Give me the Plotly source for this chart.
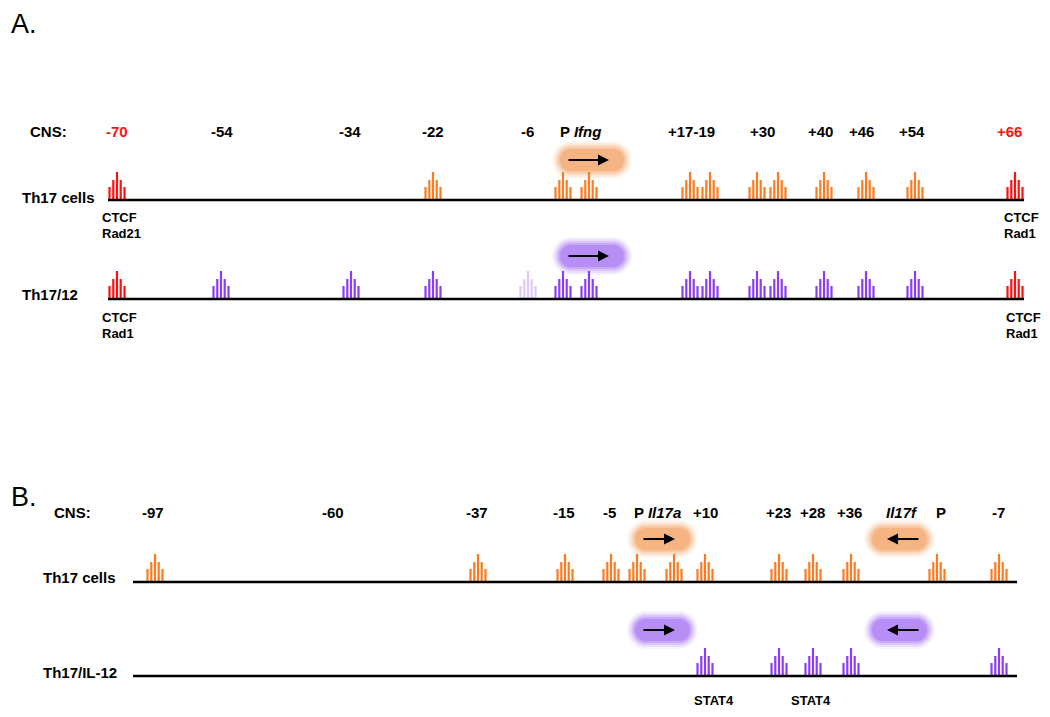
import numpy as np
import plotly.graph_objects as go

# ---------------- data ----------------
# Panel A (Ifng locus)
a_cns_labels = ["-70", "-54", "-34", "-22", "-6", "P <i>Ifng</i>", "+17-19", "+30", "+40", "+46", "+54", "+66"]
a_cns_pos = [117, 222, 350, 433, 527, 580, 691, 762, 820, 861, 912, 1009]
a_cns_kind = ["ctcf", "n", "n", "n", "n", "n", "n", "n", "n", "n", "n", "ctcf"]

a_th17_peaks = [117, 433, 563, 589, 690, 710, 757, 778, 824, 866, 915, 1015]
a_th17_kind = ["ctcf", "act", "act", "act", "act", "act", "act", "act", "act", "act", "act", "ctcf"]
a_th1712_peaks = [117, 221, 351, 433, 528, 563, 589, 690, 710, 757, 778, 824, 866, 915, 1015]
a_th1712_kind = ["ctcf", "act", "act", "act", "weak", "act", "act", "act", "act", "act", "act", "act", "act", "act", "ctcf"]

a_gene_start = [567]
a_gene_end = [609]

# Panel B (Il17a / Il17f locus)
b_cns_labels = ["-97", "-60", "-37", "-15", "-5", "P <i>Il17a</i>", "+10", "+23", "+28", "+36", "<i>Il17f</i>", "P", "-7"]
b_cns_pos = [153, 333, 477, 564, 609, 657, 705, 778, 812, 849, 902, 941, 998]

b_th17_peaks = [155, 478, 565, 611, 637, 674, 705, 779, 813, 851, 937, 999]
b_th17il12_peaks = [705, 779, 813, 851, 999]

b_gene_start = [642, 920]
b_gene_end = [675, 887]

b_stat4_pos = [714, 811]

# ---------------- styles ----------------
RED = "#FF1010"
ORANGE = "#FF7A1F"
PURPLE = "#8A3DF5"
LIGHT_PURPLE = "#DCC9F7"
GLOW_ORANGE = "#F5A061"
GLOW_PURPLE = "#A46FF4"
FONT = "Liberation Sans, Arial, sans-serif"
PAGE_OFFSET = 8  # default HTML body margin

bar_offsets = [-7.5, -3.7, 0, 3.7, 7.5]
bar_heights = [13, 20, 28, 20, 13]

fig = go.Figure()


def add_peaks(centers, kinds, base, act_color):
    groups = {}
    for c, k in zip(centers, kinds):
        col = {"ctcf": RED, "act": act_color, "weak": LIGHT_PURPLE}[k]
        xs, ys = groups.setdefault(col, ([], []))
        for o, h in zip(bar_offsets, bar_heights):
            xs += [c + o, c + o, None]
            ys += [base, base - h, None]
    for col, (xs, ys) in groups.items():
        fig.add_trace(go.Scatter(x=xs, y=ys, mode="lines", line=dict(color=col, width=2.2),
                                 hoverinfo="skip", showlegend=False))


def add_baseline(x0, x1, y):
    fig.add_trace(go.Scatter(x=[x0, x1], y=[y, y], mode="lines", line=dict(color="black", width=2.5),
                             hoverinfo="skip", showlegend=False))


def add_gene_arrow(start, end, y, glow):
    lo, hi = min(start, end), max(start, end)
    xs = np.linspace(lo + 4 - (0 if start < end else 8), hi - 4 + (8 if start < end else 0), 40)
    for size, op in [(38, 0.08), (34, 0.14), (30, 0.22), (26, 0.32), (22, 0.45)]:
        fig.add_trace(go.Scatter(x=xs, y=[y] * len(xs), mode="markers",
                                 marker=dict(size=size, color=glow, line=dict(width=0)),
                                 opacity=op, hoverinfo="skip", showlegend=False))
    fig.add_annotation(x=end, y=y, ax=start, ay=y, axref="x", ayref="y", xref="x", yref="y",
                       text="", showarrow=True, arrowhead=2, arrowsize=1.1, arrowwidth=2,
                       arrowcolor="black")


def add_text(x, y, txt, size=15, color="black", anchor="center"):
    fig.add_annotation(x=x, y=y, xref="x", yref="y", text=txt, showarrow=False,
                       xanchor=anchor, yanchor="middle",
                       font=dict(family=FONT, size=size, color=color))


# ---- Panel A ----
add_text(9, 24, "A.", size=27, anchor="left")
add_text(28, 131, "<b>CNS:</b>", anchor="left")
for lab, x, k in zip(a_cns_labels, a_cns_pos, a_cns_kind):
    add_text(x, 131, "<b>" + lab + "</b>", color=RED if k == "ctcf" else "black")

for s, e in zip(a_gene_start, a_gene_end):
    add_gene_arrow(s, e, 160, GLOW_ORANGE)
    add_gene_arrow(s, e, 256, GLOW_PURPLE)

add_peaks(a_th17_peaks, a_th17_kind, 200, ORANGE)
add_peaks(a_th1712_peaks, a_th1712_kind, 299, PURPLE)
add_baseline(108, 1024, 200)
add_baseline(108, 1024, 299)

add_text(20, 197, "<b>Th17 cells</b>", anchor="left")
add_text(20, 294, "<b>Th17/12</b>", anchor="left")

add_text(100, 217, "<b>CTCF</b>", size=13, anchor="left")
add_text(100, 233, "<b>Rad21</b>", size=13, anchor="left")
add_text(1002, 217, "<b>CTCF</b>", size=13, anchor="left")
add_text(1002, 233, "<b>Rad1</b>", size=13, anchor="left")
add_text(100, 317, "<b>CTCF</b>", size=13, anchor="left")
add_text(100, 333, "<b>Rad1</b>", size=13, anchor="left")
add_text(1004, 317, "<b>CTCF</b>", size=13, anchor="left")
add_text(1004, 333, "<b>Rad1</b>", size=13, anchor="left")

# ---- Panel B ----
add_text(9, 497, "B.", size=27, anchor="left")
add_text(52, 512, "<b>CNS:</b>", anchor="left")
for lab, x in zip(b_cns_labels, b_cns_pos):
    add_text(x, 512, "<b>" + lab + "</b>")

for s, e in zip(b_gene_start, b_gene_end):
    add_gene_arrow(s, e, 539, GLOW_ORANGE)
    add_gene_arrow(s, e, 630, GLOW_PURPLE)

add_peaks(b_th17_peaks, ["act"] * len(b_th17_peaks), 582, ORANGE)
add_peaks(b_th17il12_peaks, ["act"] * len(b_th17il12_peaks), 676, PURPLE)
add_baseline(133, 1017, 582)
add_baseline(133, 1017, 676)

add_text(41, 577, "<b>Th17 cells</b>", anchor="left")
add_text(41, 672, "<b>Th17/IL-12</b>", anchor="left")
for x in b_stat4_pos:
    add_text(x, 700, "<b>STAT4</b>", size=13)

fig.update_layout(
    width=1050, height=717,
    margin=dict(l=0, r=0, t=0, b=0),
    paper_bgcolor="white", plot_bgcolor="white",
    xaxis=dict(range=[PAGE_OFFSET, 1050 + PAGE_OFFSET], visible=False, fixedrange=True),
    yaxis=dict(range=[717 + PAGE_OFFSET, PAGE_OFFSET], visible=False, fixedrange=True),
    showlegend=False,
)

fig.write_html("out.html")
